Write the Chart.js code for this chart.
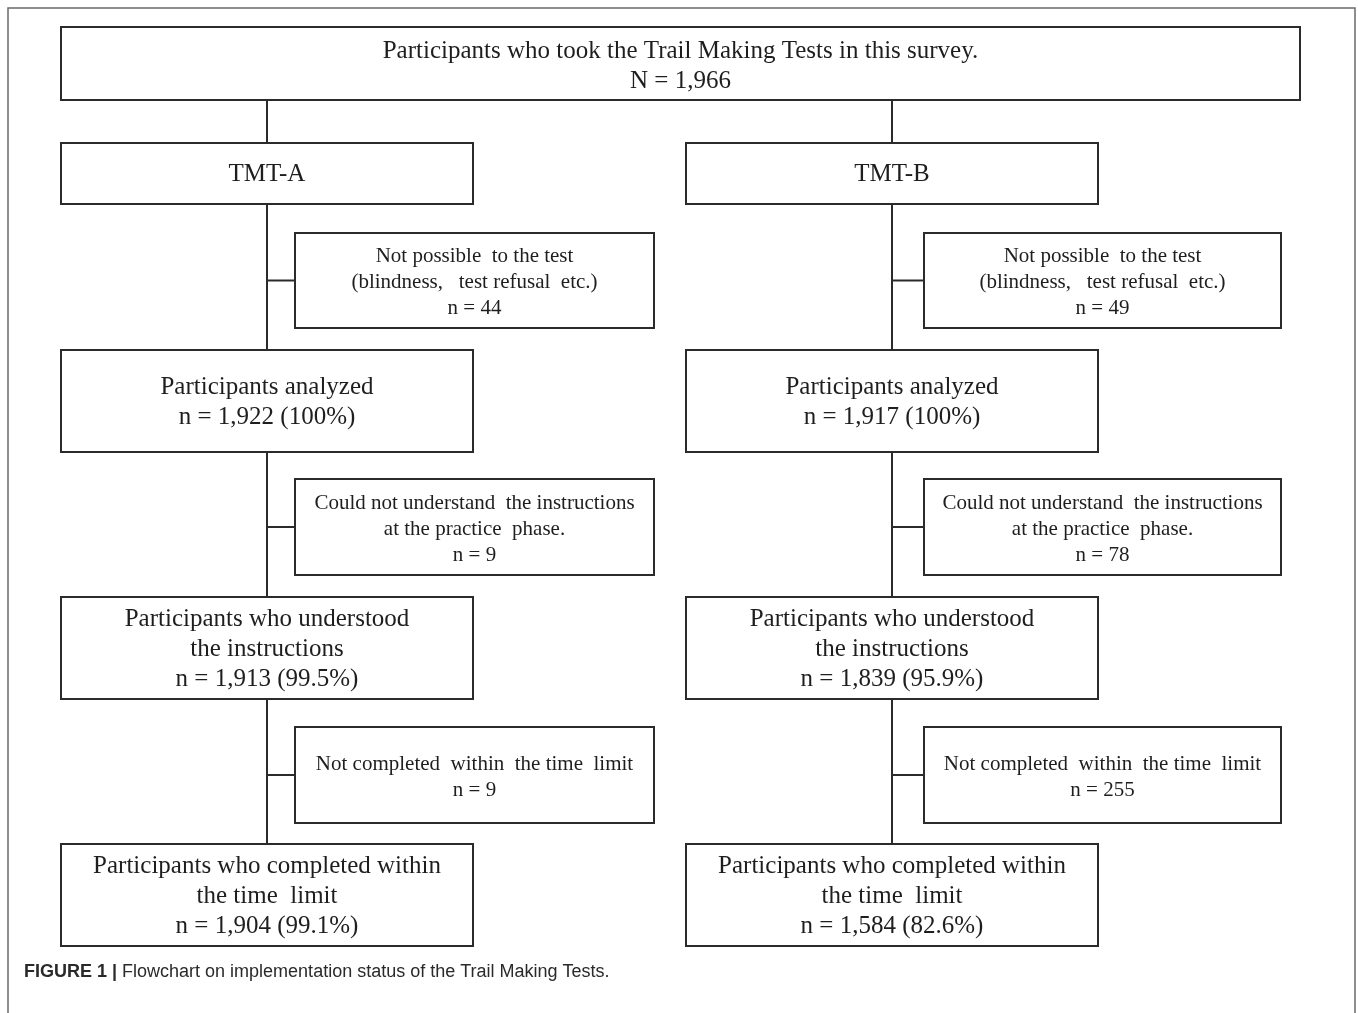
<!DOCTYPE html>
<html>
<head>
<meta charset="utf-8">
<script src="https://cdn.jsdelivr.net/npm/chart.js@4.4.1/dist/chart.umd.min.js"></script>
<style>
  html, body { margin: 0; padding: 0; background: #ffffff; }
  #wrap { width: 1358px; height: 1013px; position: relative; }
</style>
</head>
<body>
<div id="wrap"><canvas id="c"></canvas></div>
<script>
// ---------------- DATA ----------------
const headerLines = ["Participants who took the Trail Making Tests in this survey."];
const totalN = 1966;
const armLabels = ["TMT-A", "TMT-B"];
const exclusionReasons = [
  ["Not possible  to the test", "(blindness,   test refusal  etc.)"],
  ["Could not understand  the instructions", "at the practice  phase."],
  ["Not completed  within  the time  limit"]
];
const excludedA = [44, 9, 9];
const excludedB = [49, 78, 255];
const stageLabels = [
  ["Participants analyzed"],
  ["Participants who understood", "the instructions"],
  ["Participants who completed within", "the time  limit"]
];
const remainingA = [1922, 1913, 1904];
const remainingB = [1917, 1839, 1584];
const percentA = [100, 99.5, 99.1];
const percentB = [100, 95.9, 82.6];
const captionBold = "FIGURE 1 |";
const captionText = " Flowchart on implementation status of the Trail Making Tests.";

// ---------------- LAYOUT (chart units) ----------------
const layout = {
  width: 1358, height: 1013,
  frame: { left: 8, top: 8, right: 1355 },
  header: { x0: 61, x1: 1300, y0: 27, y1: 100 },
  armX: [267, 892],
  mainHalfLeft: 206, mainHalfRight: 206,
  sideOffset: [28, 32], sideWidth: [359, 357],
  armBox: { y0: 143, y1: 204 },
  sideRows: [ {y0: 233, y1: 328}, {y0: 479, y1: 575}, {y0: 727, y1: 823} ],
  stageRows: [ {y0: 350, y1: 452}, {y0: 597, y1: 699}, {y0: 844, y1: 946} ],
  caption: { x: 24, y: 972 }
};

const fmtN = v => v.toLocaleString('en-US');
const fmtP = v => (Number.isInteger(v) ? v.toString() : v.toFixed(1)) + '%';

const flowPlugin = {
  id: 'flow',
  beforeDraw(chart) {
    const ctx = chart.ctx;
    ctx.save();
    ctx.fillStyle = '#ffffff';
    ctx.fillRect(0, 0, chart.width, chart.height);
    ctx.restore();
  },
  afterDraw(chart) {
    const ctx = chart.ctx;
    const xs = chart.scales.x, ys = chart.scales.y;
    const X = v => xs.getPixelForValue(v);
    const Y = v => ys.getPixelForValue(v);
    const serif = "'Liberation Serif', 'Times New Roman', serif";
    const ink = '#1e1e1e';

    ctx.save();
    ctx.strokeStyle = '#6a6a6a';
    ctx.lineWidth = 1.5;
    ctx.beginPath();
    ctx.moveTo(X(layout.frame.left), Y(layout.height + 10));
    ctx.lineTo(X(layout.frame.left), Y(layout.frame.top));
    ctx.lineTo(X(layout.frame.right), Y(layout.frame.top));
    ctx.lineTo(X(layout.frame.right), Y(layout.height + 10));
    ctx.stroke();

    function box(x0, y0, x1, y1) {
      ctx.fillStyle = '#ffffff';
      ctx.fillRect(X(x0), Y(y0), X(x1) - X(x0), Y(y1) - Y(y0));
      ctx.strokeStyle = '#2b2b2b';
      ctx.lineWidth = 2;
      ctx.strokeRect(X(x0), Y(y0), X(x1) - X(x0), Y(y1) - Y(y0));
    }
    function line(x0, y0, x1, y1) {
      ctx.strokeStyle = '#2b2b2b';
      ctx.lineWidth = 2;
      ctx.beginPath();
      ctx.moveTo(X(x0), Y(y0));
      ctx.lineTo(X(x1), Y(y1));
      ctx.stroke();
    }
    function textBlock(lines, cx, cy, size, spacing) {
      ctx.fillStyle = ink;
      ctx.font = size + 'px ' + serif;
      ctx.textAlign = 'center';
      ctx.textBaseline = 'middle';
      const n = lines.length;
      lines.forEach((t, i) => {
        const yy = cy + (i - (n - 1) / 2) * spacing;
        ctx.fillText(t, X(cx), Y(yy));
      });
    }

    const H = layout.header;
    layout.armX.forEach((ax, a) => {
      line(ax, H.y1, ax, layout.armBox.y0);
      line(ax, layout.armBox.y1, ax, layout.stageRows[2].y0);
      layout.sideRows.forEach(r => {
        const cy = (r.y0 + r.y1) / 2;
        line(ax, cy, ax + layout.sideOffset[a], cy);
      });
    });

    box(H.x0, H.y0, H.x1, H.y1);
    textBlock([headerLines[0], 'N = ' + fmtN(totalN)], (H.x0 + H.x1) / 2, 66, 25, 30);

    const excluded = [excludedA, excludedB];
    const remaining = [remainingA, remainingB];
    const percent = [percentA, percentB];

    layout.armX.forEach((ax, a) => {
      const bx0 = ax - layout.mainHalfLeft, bx1 = ax + layout.mainHalfRight;
      box(bx0, layout.armBox.y0, bx1, layout.armBox.y1);
      textBlock([armLabels[a]], ax, (layout.armBox.y0 + layout.armBox.y1) / 2 + 1, 25, 30);

      layout.sideRows.forEach((r, i) => {
        const sx0 = ax + layout.sideOffset[a], sx1 = sx0 + layout.sideWidth[a];
        box(sx0, r.y0, sx1, r.y1);
        const lines = exclusionReasons[i].concat(['n = ' + fmtN(excluded[a][i])]);
        textBlock(lines, (sx0 + sx1) / 2, (r.y0 + r.y1) / 2 + 2, 21, 26);
      });

      layout.stageRows.forEach((r, i) => {
        box(bx0, r.y0, bx1, r.y1);
        const lines = stageLabels[i].concat(['n = ' + fmtN(remaining[a][i]) + ' (' + fmtP(percent[a][i]) + ')']);
        textBlock(lines, ax, (r.y0 + r.y1) / 2 + 1, 25, 30);
      });
    });

    ctx.textAlign = 'left';
    ctx.textBaseline = 'middle';
    ctx.fillStyle = '#2a2a2a';
    ctx.font = "bold 18px 'Liberation Sans', Arial, sans-serif";
    ctx.fillText(captionBold, X(layout.caption.x), Y(layout.caption.y));
    const w = ctx.measureText(captionBold).width;
    ctx.font = "18px 'Liberation Sans', Arial, sans-serif";
    ctx.fillText(captionText, X(layout.caption.x) + w, Y(layout.caption.y));
    ctx.restore();
  }
};

new Chart(document.getElementById('c'), {
  type: 'scatter',
  data: { datasets: [{ data: [], pointRadius: 0 }] },
  options: {
    responsive: true,
    maintainAspectRatio: false,
    animation: false,
    layout: { padding: 0 },
    plugins: { legend: { display: false }, tooltip: { enabled: false } },
    scales: {
      x: { type: 'linear', min: 0, max: layout.width, display: false },
      y: { type: 'linear', min: 0, max: layout.height, reverse: true, display: false }
    }
  },
  plugins: [flowPlugin]
});
</script>
</body>
</html>
